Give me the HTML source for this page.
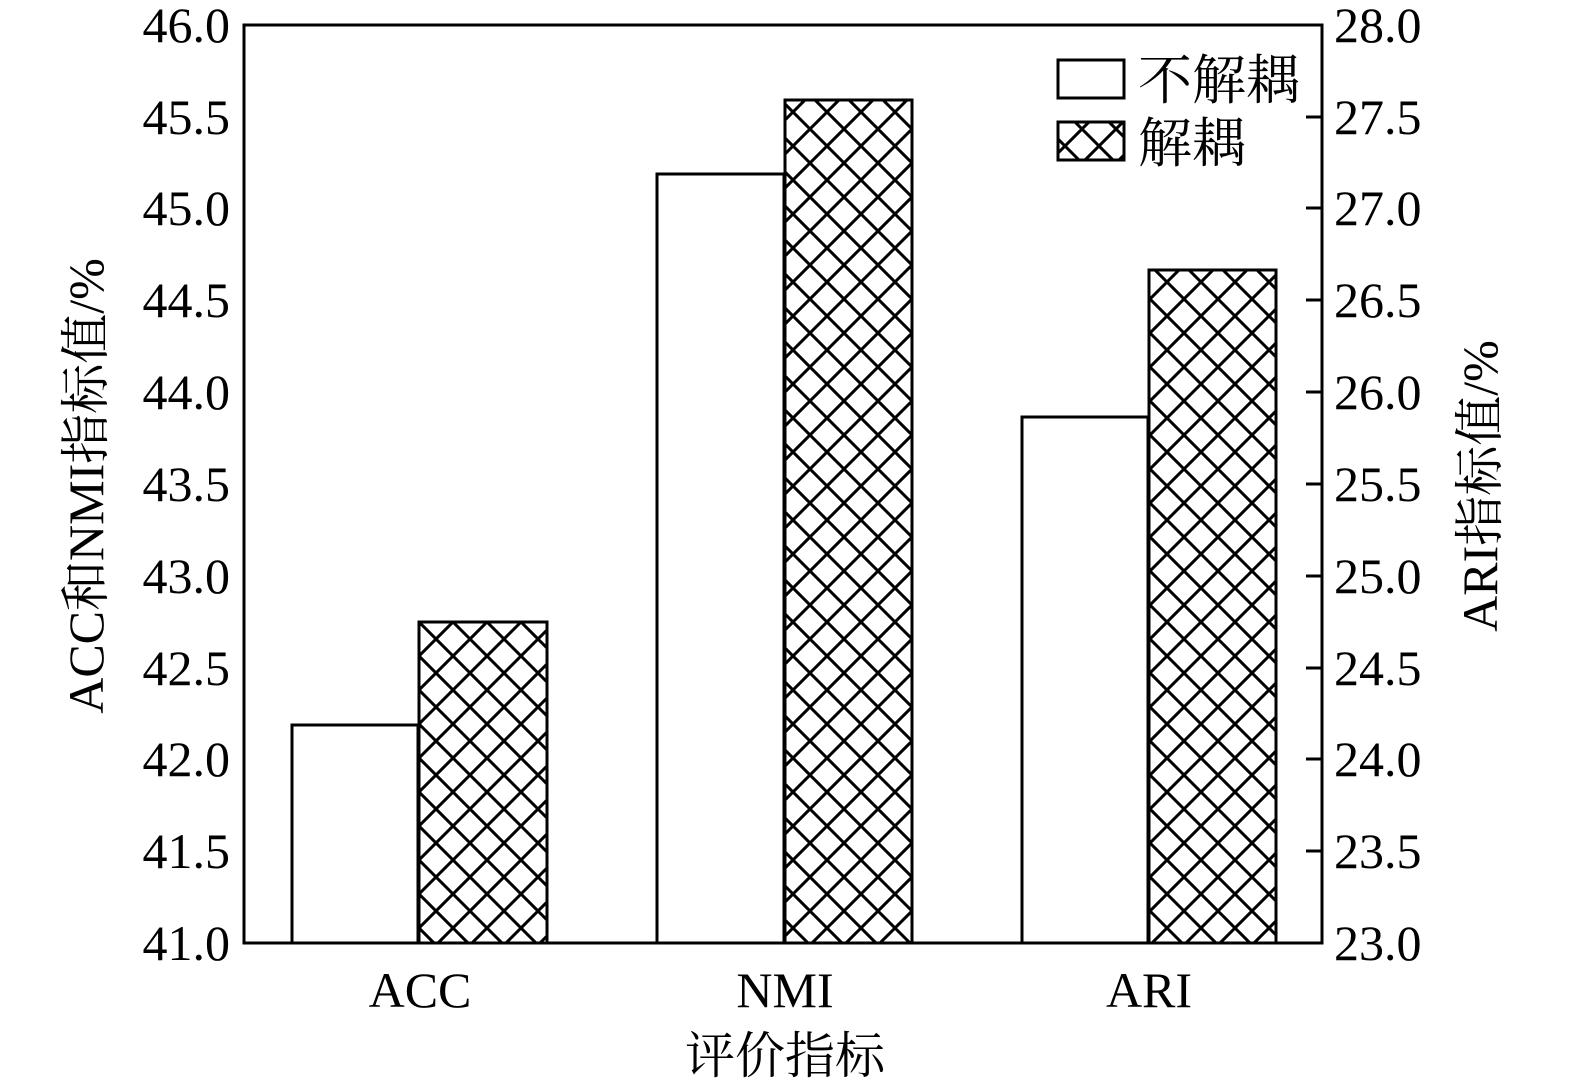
<!DOCTYPE html>
<html><head><meta charset="utf-8"><style>body{margin:0;background:#fff}</style></head><body>
<svg width="1575" height="1087" xmlns="http://www.w3.org/2000/svg" font-family="Liberation Serif, Noto Serif CJK SC, serif">
<defs>
<pattern id="h" patternUnits="userSpaceOnUse" width="34" height="34" x="419" y="622">
<path d="M0,0 L34,34 M34,0 L0,34" stroke="#000" stroke-width="3"/>
<path d="M-17,17 L17,-17 M17,51 L51,17 M-17,17 L17,51 M17,-17 L51,17" stroke="#000" stroke-width="3"/>
</pattern>
</defs>
<g stroke="#000" stroke-width="3">
<rect x="292" y="725" width="126" height="218" fill="#fff"/>
<rect x="419" y="622" width="128" height="321" fill="url(#h)"/>
<rect x="657" y="174" width="127" height="769" fill="#fff"/>
<rect x="785" y="100" width="127" height="843" fill="url(#h)"/>
<rect x="1022" y="417" width="126" height="526" fill="#fff"/>
<rect x="1149" y="270" width="127" height="673" fill="url(#h)"/>
<rect x="244" y="25" width="1078" height="918" fill="none"/>
<path d="M1322,25h-16M1322,117h-16M1322,208h-16M1322,300h-16M1322,392h-16M1322,484h-16M1322,576h-16M1322,668h-16M1322,759h-16M1322,851h-16"/>
<rect x="1058" y="60" width="66" height="38" fill="#fff"/>
<rect x="1058" y="122" width="66" height="38" fill="url(#h)"/>
</g>
<g font-size="50" text-anchor="end">
<text x="230" y="42">46.0</text><text x="230" y="134">45.5</text><text x="230" y="225">45.0</text><text x="230" y="317">44.5</text><text x="230" y="409">44.0</text><text x="230" y="501">43.5</text><text x="230" y="593">43.0</text><text x="230" y="685">42.5</text><text x="230" y="776">42.0</text><text x="230" y="868">41.5</text><text x="230" y="960">41.0</text>
</g>
<g font-size="50" text-anchor="start">
<text x="1334" y="42">28.0</text><text x="1334" y="134">27.5</text><text x="1334" y="225">27.0</text><text x="1334" y="317">26.5</text><text x="1334" y="409">26.0</text><text x="1334" y="501">25.5</text><text x="1334" y="593">25.0</text><text x="1334" y="685">24.5</text><text x="1334" y="776">24.0</text><text x="1334" y="868">23.5</text><text x="1334" y="960">23.0</text>
</g>
<g font-size="50" text-anchor="middle">
<text x="420" y="1007">ACC</text><text x="785" y="1007">NMI</text><text x="1149" y="1007">ARI</text>
<text x="785" y="1073">评价指标</text>
<text transform="translate(103,486) rotate(-90)">ACC和NMI指标值/%</text>
<text transform="translate(1497,486) rotate(-90)">ARI指标值/%</text>
</g>
<g font-size="54"><text x="1138" y="99">不解耦</text><text x="1138" y="162">解耦</text></g>
</svg>
</body></html>
